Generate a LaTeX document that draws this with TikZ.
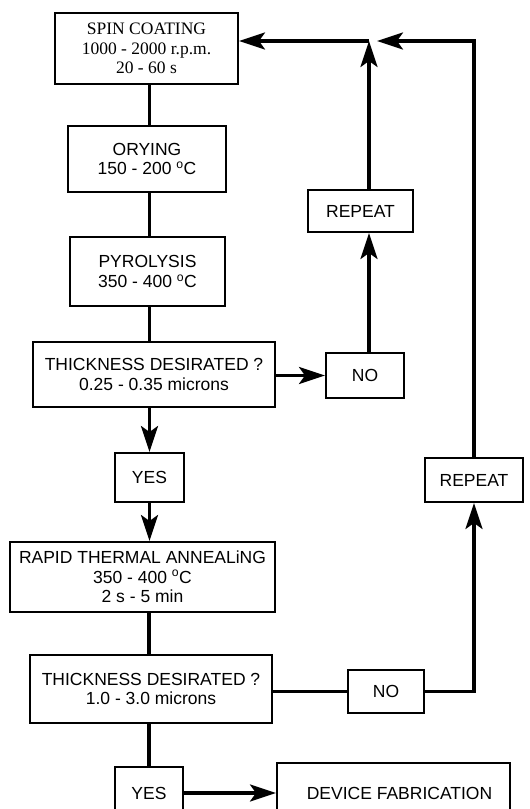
\documentclass[tikz,border=0pt]{standalone}
\usepackage{fontspec}
\setmainfont{Liberation Sans}
\newfontfamily\timesfont{Liberation Serif}
\usetikzlibrary{arrows.meta}
\tikzset{
  box/.style={draw,line width=2pt,align=center,inner sep=0pt,
    font=\fontsize{17.5}{19.5}\selectfont},
  flow/.style={line width=3.2pt},
  arr/.style={flow,-{Stealth[length=26pt,width=17pt,inset=6pt]}}
}
\begin{document}
\begin{tikzpicture}[x=1pt,y=-1pt]
\useasboundingbox (0,0) rectangle (530,809);
% main column
\node[box,minimum width=183pt,minimum height=71pt,font=\timesfont\fontsize{17.5}{19.5}\selectfont]
  (spin) at (146.5,48.5) {SPIN COATING\\1000 - 2000 r.p.m.\\20 - 60 s};
\node[box,minimum width=158pt,minimum height=66pt] (dry) at (147,159) {ORYING\\150 - 200 \textsuperscript{o}C};
\node[box,minimum width=155pt,minimum height=69pt] (pyro) at (147.5,271.5) {PYROLYSIS\\350 - 400 \textsuperscript{o}C};
\node[box,minimum width=242pt,minimum height=65pt] (thick1) at (154,374.5) {THICKNESS DESIRATED ?\\0.25 - 0.35 microns};
\node[box,minimum width=69pt,minimum height=49pt] (yes1) at (149.5,477.5) {YES};
\node[box,minimum width=265pt,minimum height=70pt] (rta) at (142.5,577) {RAPID THERMAL ANNEALiNG\\350 - 400 \textsuperscript{o}C\\2 s - 5 min};
\node[box,minimum width=242pt,minimum height=68pt] (thick2) at (151,689) {THICKNESS DESIRATED ?\\1.0 - 3.0 microns};
\node[box,minimum width=68pt,minimum height=52pt] (yes2) at (149,793) {YES};
\node[box,minimum width=233pt,minimum height=60pt] (dev) at (393.5,793) {\hspace*{12pt}DEVICE FABRICATION};
% loops
\node[box,minimum width=78pt,minimum height=45pt] (no1) at (365,375.5) {NO};
\node[box,minimum width=105pt,minimum height=42pt] (rep1) at (360.5,211) {REPEAT};
\node[box,minimum width=76pt,minimum height=43pt] (no2) at (386,691.5) {NO};
\node[box,minimum width=98pt,minimum height=44pt] (rep2) at (474,480) {REPEAT};
\coordinate (join) at (369,41);

\draw[flow] (spin.south -| yes1) -- (dry.north -| yes1);
\draw[flow] (dry.south -| yes1) -- (pyro.north -| yes1);
\draw[flow] (pyro.south -| yes1) -- (thick1.north -| yes1);
\draw[arr] (thick1.south -| yes1) -- (yes1.north);
\draw[arr] (yes1.south) -- (rta.north -| yes1);
\draw[flow] (rta.south -| yes2) -- (thick2.north -| yes2);
\draw[flow] (thick2.south -| yes2) -- (yes2.north);
\draw[arr] (yes2.east) -- (dev.west);

\draw[arr] (thick1.east |- no1) -- (no1.west);
\draw[arr] (no1.north -| join) -- (rep1.south -| join);
\draw[arr] (rep1.north -| join) -- (join);
\draw[arr] (join) -- (spin.east |- join);

\draw[flow] (thick2.east |- no2) -- (no2.west);
\draw[arr] (no2.east) -| (rep2.south);
\draw[arr] (rep2.north) |- ([xshift=8pt]join);
\end{tikzpicture}
\end{document}
